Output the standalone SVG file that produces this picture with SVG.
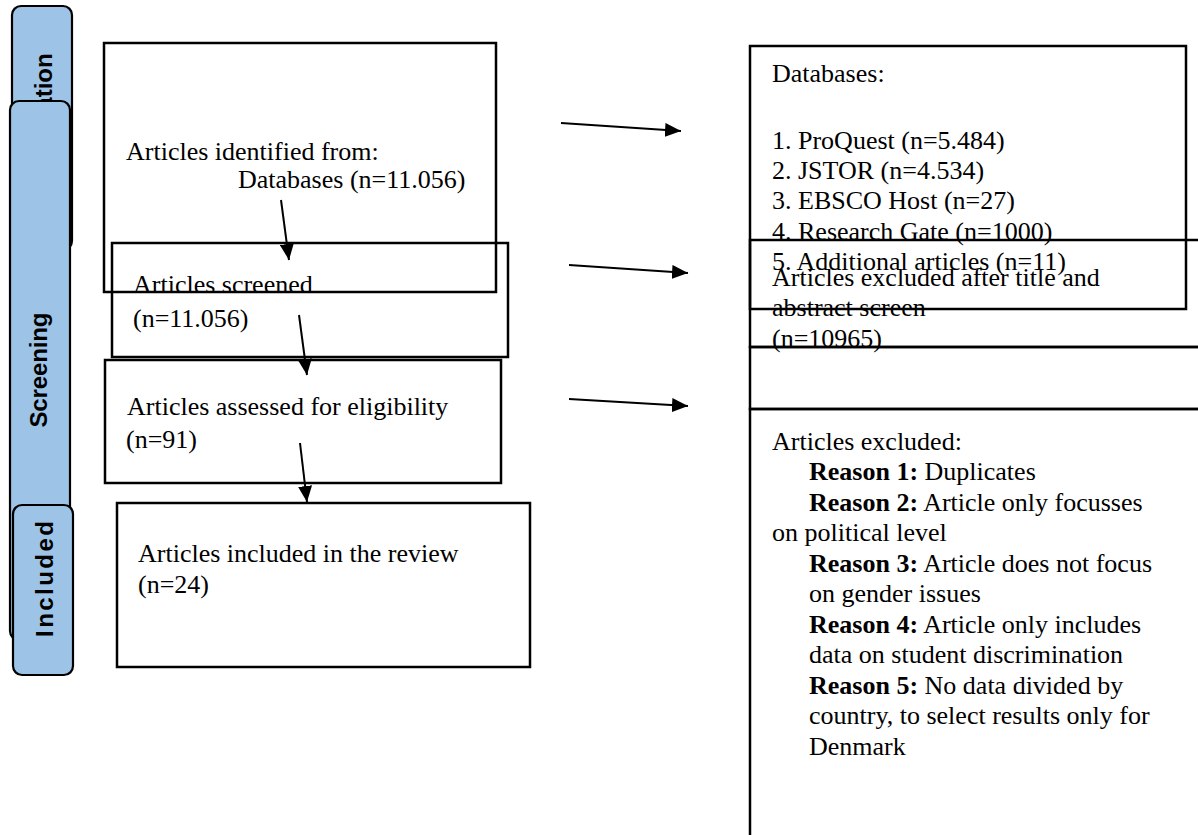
<svg xmlns="http://www.w3.org/2000/svg" width="1198" height="835" viewBox="0 0 1198 835">
<style>
.box{fill:none;stroke:#000;stroke-width:2.5}
.tab{fill:#9DC3E6;stroke:#000;stroke-width:2.2}
.tt{font-family:"Liberation Sans",Arial,sans-serif;font-weight:bold;font-size:24px;fill:#000;text-anchor:middle}
.t{font-family:"Liberation Serif","Times New Roman",serif;font-size:26px;fill:#000}
.b{font-weight:bold}
.arr{stroke:#000;stroke-width:2;fill:none;marker-end:url(#ah)}
</style>
<defs>
<marker id="ah" markerUnits="userSpaceOnUse" markerWidth="18" markerHeight="14" refX="16" refY="7" orient="auto">
<path d="M0,0 L16,7 L0,14 Z" fill="#000"/>
</marker>
</defs>
<rect width="1198" height="835" fill="#fff"/>
<g id="tab-identification">
<rect class="tab" x="12" y="6" width="60" height="244" rx="9"/>
<text class="tt" transform="translate(52,128) rotate(-90)">Identification</text>
</g>
<g id="tab-screening">
<rect class="tab" x="10" y="101" width="60" height="539" rx="9"/>
<text class="tt" transform="translate(47,370) rotate(-90)" textLength="115" lengthAdjust="spacing">Screening</text>
</g>
<g id="tab-included">
<rect class="tab" x="13" y="505" width="60" height="170" rx="9"/>
<text class="tt" transform="translate(53,579) rotate(-90)" textLength="116" lengthAdjust="spacing">Included</text>
</g>
<g id="identified">
<rect class="box" x="104" y="43" width="392" height="249"/>
<text class="t" x="126" y="160">Articles identified from:</text>
<text class="t" x="238" y="188">Databases (n=11.056)</text>
</g>
<g id="screened">
<rect class="box" x="112" y="243" width="396" height="114"/>
<text class="t" x="133" y="293">Articles screened</text>
<text class="t" x="133" y="327">(n=11.056)</text>
</g>
<g id="assessed">
<rect class="box" x="105" y="360" width="396" height="123"/>
<text class="t" x="127" y="415">Articles assessed for eligibility</text>
<text class="t" x="126" y="448">(n=91)</text>
</g>
<g id="included">
<rect class="box" x="117" y="503" width="413" height="164"/>
<text class="t" x="138" y="562">Articles included in the review</text>
<text class="t" x="138" y="593">(n=24)</text>
</g>
<g id="databases">
<rect class="box" x="750" y="46" width="436" height="263"/>
<text class="t" x="772" y="82">Databases:</text>
<text class="t" x="772" y="149">1. ProQuest (n=5.484)</text>
<text class="t" x="772" y="179">2. JSTOR (n=4.534)</text>
<text class="t" x="772" y="209">3. EBSCO Host (n=27)</text>
<text class="t" x="772" y="240">4. Research Gate (n=1000)</text>
<text class="t" x="772" y="270">5. Additional articles (n=11)</text>
</g>
<g id="excluded-screen">
<rect class="box" x="750" y="240" width="460" height="107"/>
<text class="t" x="772" y="286">Articles excluded after title and</text>
<text class="t" x="772" y="316">abstract screen</text>
<text class="t" x="772" y="347">(n=10965)</text>
</g>
<g id="empty-box">
<rect class="box" x="750" y="347" width="460" height="62"/>
</g>
<g id="excluded-reasons">
<rect class="box" x="750" y="409" width="460" height="440"/>
<text class="t" x="772" y="450">Articles excluded:</text>
<text class="t" x="809" y="480"><tspan class="b">Reason 1:</tspan> Duplicates</text>
<text class="t" x="809" y="511"><tspan class="b">Reason 2:</tspan> Article only focusses</text>
<text class="t" x="772" y="541">on political level</text>
<text class="t" x="809" y="572"><tspan class="b">Reason 3:</tspan> Article does not focus</text>
<text class="t" x="809" y="602">on gender issues</text>
<text class="t" x="809" y="633"><tspan class="b">Reason 4:</tspan> Article only includes</text>
<text class="t" x="809" y="663">data on student discrimination</text>
<text class="t" x="809" y="694"><tspan class="b">Reason 5:</tspan> No data divided by</text>
<text class="t" x="809" y="724">country, to select results only for</text>
<text class="t" x="809" y="755">Denmark</text>
</g>
<g id="connectors">
<line class="arr" x1="281" y1="200" x2="289" y2="260"/>
<line class="arr" x1="299" y1="315" x2="307" y2="375"/>
<line class="arr" x1="300" y1="443" x2="307" y2="502"/>
<line class="arr" x1="561" y1="123" x2="681" y2="131"/>
<line class="arr" x1="569" y1="265" x2="688" y2="273"/>
<line class="arr" x1="569" y1="399" x2="688" y2="406"/>
</g>
</svg>
